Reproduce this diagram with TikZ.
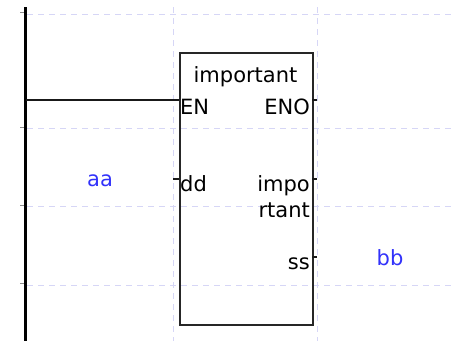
\documentclass[tikz,border=0pt]{standalone}
\usepackage{fontspec}
\setmainfont{DejaVu Sans}
\usetikzlibrary{positioning}
\definecolor{gridc}{RGB}{214,214,246}
\definecolor{varc}{RGB}{50,50,250}
\tikzset{
  gridline/.style={gridc, line width=1pt, dash pattern=on 6pt off 5pt},
  railtick/.style={black!45, line width=1pt},
  pinline/.style={black!90, line width=1.5pt},
  pinlabel/.style={inner sep=0pt, font=\fontsize{21}{25}\selectfont, text=black},
  varlabel/.style={inner sep=0pt, font=\fontsize{21}{25}\selectfont, text=varc},
  fbox/.style={draw=black!85, line width=1.5pt, minimum width=133pt, minimum height=272pt, inner sep=0pt, anchor=north west}
}
\begin{document}
\begin{tikzpicture}[x=1pt,y=-1pt]
            \useasboundingbox (0,0) rectangle (454,341);
            \foreach \y in {14,128,206,285} \draw[gridline] (27,\y)--(454,\y);
            \foreach \x in {173,317} \draw[gridline] (\x,7)--(\x,341);
            \foreach \y in {12,127,205,283} \draw[railtick] (20,\y)--(24,\y);
            \coordinate (railtop) at (25.5,7);
            \coordinate (railbot) at (25.5,341);
            \draw[line width=3pt] (railtop)--(railbot);
            \node[fbox] (blk) at (179,52) {};
            \node[pinlabel, anchor=base] (title) at (245.5,82) {important};
            \node[pinlabel, anchor=base west] (enl) at (180,114) {EN};
            \node[pinlabel, anchor=base east] (enol) at (310,114) {ENO};
            \node[pinlabel, anchor=base west] (ddl) at (180,191) {dd};
            \node[pinlabel, anchor=base east] (impol) at (310,191) {impo};
            \node[pinlabel, anchor=base east] (rtantl) at (310,217) {rtant};
            \node[pinlabel, anchor=base east] (ssl) at (310,269) {ss};
            \node[varlabel, anchor=base] (aa) at (100,186) {aa};
            \node[varlabel, anchor=base] (bb) at (390,265) {bb};
            \coordinate (enrail) at (25.5,100);
            \coordinate (en) at (179,100);
            \coordinate (eno) at (312,100);
            \coordinate (dd) at (179,179);
            \coordinate (impo) at (312,179);
            \coordinate (ss) at (312,257);
            \draw[pinline] (enrail)--(en);
            \draw[pinline] (eno)--++(5,0);
            \draw[pinline] (dd)--++(-6,0);
            \draw[pinline] (impo)--++(5,0);
            \draw[pinline] (ss)--++(5,0);
        \end{tikzpicture}
\end{document}
